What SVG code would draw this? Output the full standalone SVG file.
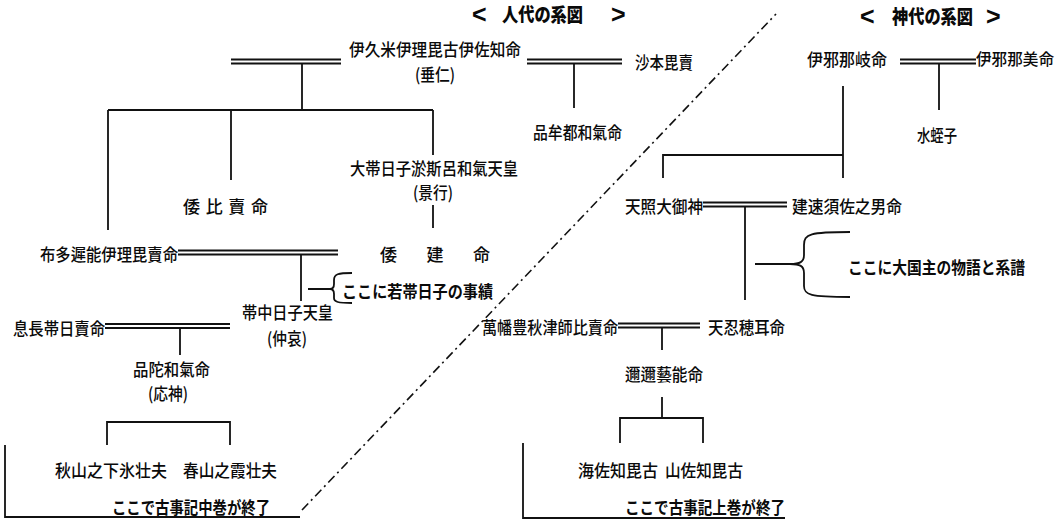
<svg xmlns="http://www.w3.org/2000/svg" width="1058" height="522" viewBox="0 0 1058 522">
<style>
.t{font-family:"Noto Sans CJK JP","Noto Sans CJK SC",sans-serif;font-size:17px;font-weight:500;fill:#0a0a0a;dominant-baseline:central}
.b{font-weight:bold}
.h{font-family:"Noto Sans CJK JP",sans-serif;font-size:19px;font-weight:900;fill:#0a0a0a;dominant-baseline:central}
.a{font-family:"Liberation Sans",sans-serif;font-size:25px;font-weight:bold;fill:#0a0a0a;dominant-baseline:central}
.l{stroke:#111;stroke-width:1.8;fill:none}
.d{stroke:#111;stroke-width:1.9;fill:none}
.dd{stroke:#111;stroke-width:1.6;fill:none;stroke-dasharray:9 4 2 4}
</style>
<rect width="1058" height="522" fill="#fff"/>
<g id="titles">
<text class="a" x="472" y="14">&lt;</text>
<text class="h" x="502" y="13" textLength="81" lengthAdjust="spacingAndGlyphs">人代の系図</text>
<text class="a" x="611" y="14">&gt;</text>
<text class="a" x="860" y="16">&lt;</text>
<text class="h" x="892" y="15" textLength="81" lengthAdjust="spacingAndGlyphs">神代の系図</text>
<text class="a" x="986" y="16">&gt;</text>
</g>
<g id="connectors">
<path class="dd" d="M302,510 L776,14"/>
<path class="d" d="M231,59.5 H341 M231,63.5 H341"/>
<path class="l" d="M302,64 V110 M108,110 H433 M108,110 V230 M231,110 V180 M433,110 V155"/>
<path class="d" d="M527,59.5 H622 M527,63.5 H622"/>
<path class="l" d="M574,64 V108"/>
<path class="l" d="M433,205 V228"/>
<path class="d" d="M178,250.5 H338 M178,254.5 H338"/>
<path class="l" d="M301,255 V301"/>
<path class="l" d="M308,289 H330 M352,273 C338,273 334,274 334,280 L334,284 C334,288 332,289 330,289 C332,289 334,290 334,294 L334,298 C334,302 338,303 352,303"/>
<path class="d" d="M105,324 H230 M105,328 H230"/>
<path class="l" d="M180,328 V355"/>
<path class="l" d="M107,445 V422 H230 V445"/>
<path class="l" d="M5,445 V517 H300"/>
<path class="d" d="M900,59.5 H976 M900,63.5 H976"/>
<path class="l" d="M939,64 V110"/>
<path class="l" d="M843,86 V178 M663,178 V155 H843"/>
<path class="d" d="M703,202.5 H787 M703,206.5 H787"/>
<path class="l" d="M745,207 V300"/>
<path class="l" d="M755,264 H790 M850,232 C810,232 804,234 804,245 L804,255 C804,262 800,264 790,264 C800,264 804,266 804,273 L804,286 C804,295 810,297 850,297"/>
<path class="d" d="M618,323.5 H700 M618,327.5 H700"/>
<path class="l" d="M662,328 V350"/>
<path class="l" d="M662,397 V418 M620,443 V418 H703 V443"/>
<path class="l" d="M523,443 V518 H785"/>
</g>
<g id="n-suinin"><text class="t" x="349" y="48" textLength="172" lengthAdjust="spacingAndGlyphs">伊久米伊理毘古伊佐知命</text><text class="t" x="415" y="73" textLength="40" lengthAdjust="spacingAndGlyphs">(垂仁)</text></g>
<g id="n-sahobime"><text class="t" x="635" y="61" textLength="58" lengthAdjust="spacingAndGlyphs">沙本毘賣</text></g>
<g id="n-homutsuwake"><text class="t" x="533" y="131" textLength="89" lengthAdjust="spacingAndGlyphs">品牟都和氣命</text></g>
<g id="n-yamatohime"><text class="t" x="183" y="205" textLength="85" lengthAdjust="spacing">倭比賣命</text></g>
<g id="n-keiko"><text class="t" x="350" y="167" textLength="168" lengthAdjust="spacingAndGlyphs">大帯日子淤斯呂和氣天皇</text><text class="t" x="413" y="191" textLength="40" lengthAdjust="spacingAndGlyphs">(景行)</text></g>
<g id="n-yamatotakeru"><text class="t" x="380" y="253" textLength="110" lengthAdjust="spacing">倭建命</text></g>
<g id="n-futajinoiribime"><text class="t" x="40" y="253" textLength="138" lengthAdjust="spacingAndGlyphs">布多遲能伊理毘賣命</text></g>
<g id="n-note1"><text class="t b" x="342" y="290" textLength="151" lengthAdjust="spacingAndGlyphs">ここに若帯日子の事績</text></g>
<g id="n-chuai"><text class="t" x="242" y="311" textLength="91" lengthAdjust="spacingAndGlyphs">帯中日子天皇</text><text class="t" x="267" y="337" textLength="40" lengthAdjust="spacingAndGlyphs">(仲哀)</text></g>
<g id="n-okinaga"><text class="t" x="13" y="327" textLength="92" lengthAdjust="spacingAndGlyphs">息長帯日賣命</text></g>
<g id="n-ojin"><text class="t" x="133" y="368" textLength="77" lengthAdjust="spacingAndGlyphs">品陀和氣命</text><text class="t" x="148" y="392" textLength="40" lengthAdjust="spacingAndGlyphs">(応神)</text></g>
<g id="n-akiyama"><text class="t" x="55" y="469" textLength="112" lengthAdjust="spacingAndGlyphs">秋山之下氷壮夫</text></g>
<g id="n-haruyama"><text class="t" x="183" y="469" textLength="94" lengthAdjust="spacingAndGlyphs">春山之霞壮夫</text></g>
<g id="n-end-middle"><text class="t b" x="112" y="506" textLength="158" lengthAdjust="spacingAndGlyphs">ここで古事記中巻が終了</text></g>
<g id="n-izanagi"><text class="t" x="807" y="58" textLength="80" lengthAdjust="spacingAndGlyphs">伊邪那岐命</text></g>
<g id="n-izanami"><text class="t" x="976" y="58" textLength="78" lengthAdjust="spacingAndGlyphs" style="font-size:16px">伊邪那美命</text></g>
<g id="n-hiruko"><text class="t" x="917" y="134" textLength="40" lengthAdjust="spacingAndGlyphs">水蛭子</text></g>
<g id="n-amaterasu"><text class="t" x="625" y="205" textLength="78" lengthAdjust="spacingAndGlyphs">天照大御神</text></g>
<g id="n-susanoo"><text class="t" x="792" y="205" textLength="110" lengthAdjust="spacingAndGlyphs">建速須佐之男命</text></g>
<g id="n-note2"><text class="t b" x="848" y="266" textLength="177" lengthAdjust="spacingAndGlyphs">ここに大国主の物語と系譜</text></g>
<g id="n-yorozuhata"><text class="t" x="482" y="326" textLength="136" lengthAdjust="spacingAndGlyphs">萬幡豊秋津師比賣命</text></g>
<g id="n-oshihomimi"><text class="t" x="708" y="326" textLength="77" lengthAdjust="spacingAndGlyphs">天忍穂耳命</text></g>
<g id="n-ninigi"><text class="t" x="625" y="373" textLength="78" lengthAdjust="spacingAndGlyphs">邇邇藝能命</text></g>
<g id="n-umisachi"><text class="t" x="578" y="469" textLength="80" lengthAdjust="spacingAndGlyphs">海佐知毘古</text></g>
<g id="n-yamasachi"><text class="t" x="665" y="469" textLength="78" lengthAdjust="spacingAndGlyphs">山佐知毘古</text></g>
<g id="n-end-upper"><text class="t b" x="625" y="506" textLength="160" lengthAdjust="spacingAndGlyphs">ここで古事記上巻が終了</text></g>
</svg>
